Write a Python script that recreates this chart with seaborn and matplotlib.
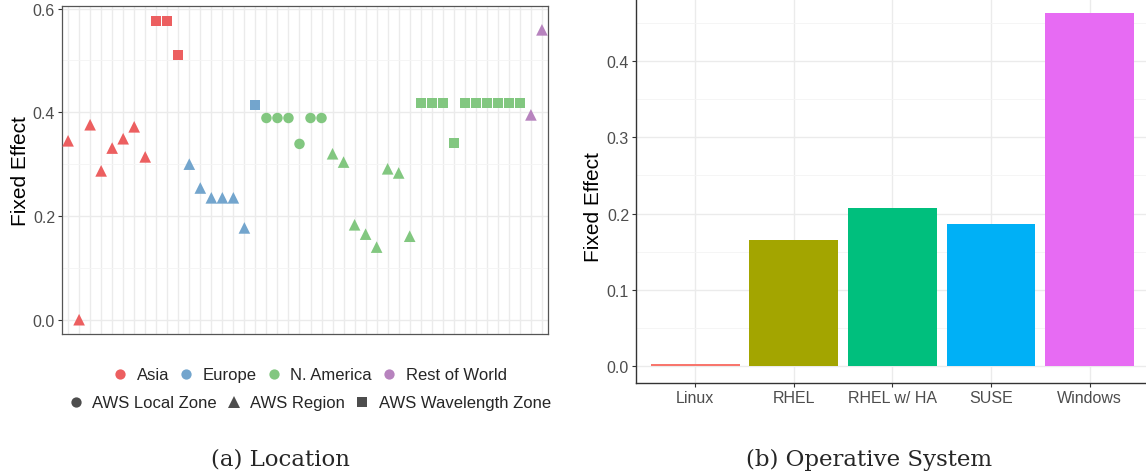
import numpy as np
import pandas as pd
import matplotlib
matplotlib.use("Agg")
import matplotlib.pyplot as plt
from matplotlib.lines import Line2D
import seaborn as sns

# ---------------- data ----------------
continents = (["Asia"] * 11 + ["Europe"] * 7 + ["N. America"] * 24 + ["Rest of World"] * 2)
zones = (["AWS Region"] * 8 + ["AWS Wavelength Zone"] * 3 +
         ["AWS Region"] * 6 + ["AWS Wavelength Zone"] * 1 +
         ["AWS Local Zone"] * 6 + ["AWS Region"] * 8 + ["AWS Wavelength Zone"] * 10 +
         ["AWS Region"] * 2)
loc_effect = [0.345, 0.0, 0.376, 0.287, 0.331, 0.349, 0.372, 0.314, 0.576, 0.576, 0.511,
              0.300, 0.254, 0.235, 0.235, 0.235, 0.177, 0.414,
              0.389, 0.389, 0.389, 0.339, 0.389, 0.389, 0.320, 0.304, 0.183, 0.165,
              0.140, 0.291, 0.283, 0.161, 0.418, 0.418, 0.418, 0.341, 0.418, 0.418,
              0.418, 0.418, 0.418, 0.418,
              0.395, 0.559]
sites = [f"site{i + 1:02d}" for i in range(len(loc_effect))]

continent_order = ["Asia", "Europe", "N. America", "Rest of World"]
zone_order = ["AWS Local Zone", "AWS Region", "AWS Wavelength Zone"]

os_names = ["Linux", "RHEL", "RHEL w/ HA", "SUSE", "Windows"]
os_effect = [0.002, 0.166, 0.207, 0.187, 0.463]

# ---------------- styles ----------------
cont_colors = {"Asia": "#EC5F60", "Europe": "#73A5CD", "N. America": "#82C780",
               "Rest of World": "#B783BE"}
zone_markers = {"AWS Local Zone": "o", "AWS Region": "^", "AWS Wavelength Zone": "s"}
zone_sizes = {"AWS Local Zone": 57, "AWS Region": 70, "AWS Wavelength Zone": 52}
os_colors = ["#F8766D", "#A3A500", "#00BF7D", "#00B0F6", "#E76BF3"]

sns.set_theme(style="white")
plt.rcParams["font.family"] = ["Liberation Sans", "DejaVu Sans"]

W, H = 1146, 477
fig = plt.figure(figsize=(W / 100, H / 100), dpi=100)

def fbox(x0, y0, x1, y1):
    return [x0 / W, 1 - y1 / H, (x1 - x0) / W, (y1 - y0) / H]

grid_major = "#EBEBEB"
grid_minor = "#F4F4F4"
tick_col = "#4D4D4D"
TICK_FS = 11.5
TITLE_FS = 15

# ---------------- left panel ----------------
ax1 = fig.add_axes(fbox(62, 7, 548, 335))
df = pd.DataFrame({"site": sites, "continent": continents, "zone": zones,
                   "effect": loc_effect})
sns.scatterplot(data=df, x="site", y="effect", hue="continent", style="zone",
                size="zone", hue_order=continent_order, style_order=zone_order,
                size_order=zone_order, sizes=zone_sizes,
                palette=cont_colors, markers=zone_markers, linewidth=0,
                legend=False, ax=ax1, zorder=3)
ax1.set_xlim(-0.55, len(sites) - 1 + 0.55)
ax1.set_ylim(-0.0276, 0.605)
ax1.set_yticks([0.0, 0.2, 0.4, 0.6])
ax1.set_yticklabels(["0.0", "0.2", "0.4", "0.6"])
ax1.set_yticks([0.1, 0.3, 0.5], minor=True)
ax1.set_xticks(range(len(sites)))
ax1.set_xticklabels([])
ax1.tick_params(axis="x", length=0)
ax1.tick_params(axis="y", which="major", length=3, width=0.8, color="#333333",
                labelsize=TICK_FS, labelcolor=tick_col, pad=2, left=True)
ax1.tick_params(axis="y", which="minor", length=0)
ax1.grid(True, which="major", color=grid_major, linewidth=1.0, zorder=0)
ax1.grid(True, which="minor", axis="y", color=grid_minor, linewidth=0.6, zorder=0)
ax1.set_axisbelow(True)
for sp in ax1.spines.values():
    sp.set_visible(True)
    sp.set_color("#555555")
    sp.set_linewidth(0.9)
ax1.set_xlabel("")
ax1.set_ylabel("Fixed Effect", fontsize=TITLE_FS, color="black")
ax1.yaxis.set_label_coords(-0.066, 0.5)

# legends
leg_kw = dict(frameon=False, fontsize=12, handletextpad=0.6, columnspacing=0.62,
              handlelength=0.8, borderpad=0, loc="center")
h1 = [Line2D([], [], linestyle="", marker="o", markersize=7.4, markeredgewidth=0,
             color=cont_colors[c], label=c) for c in continent_order]
fig.legend(handles=h1, bbox_to_anchor=(310 / W, 1 - 376 / H), ncol=4, **leg_kw)
h2 = [Line2D([], [], linestyle="", marker=zone_markers[z],
             markersize=7.4 if zone_markers[z] != "^" else 8.2,
             markeredgewidth=0, color="#4D4D4D", label=z) for z in zone_order]
fig.legend(handles=h2, bbox_to_anchor=(310 / W, 1 - 404 / H), ncol=3, **leg_kw)

# ---------------- right panel ----------------
ax2 = fig.add_axes(fbox(636, 0, 1146, 384))
dfo = pd.DataFrame({"os": os_names, "effect": os_effect})
sns.barplot(data=dfo, x="os", y="effect", hue="os", order=os_names,
            hue_order=os_names, palette=os_colors, width=0.9, legend=False,
            saturation=1, ax=ax2, zorder=3, linewidth=0)
ax2.set_xlim(-0.6, 4.573)
ax2.set_ylim(-0.0223, 0.4816)
ax2.set_yticks([0.0, 0.1, 0.2, 0.3, 0.4])
ax2.set_yticklabels(["0.0", "0.1", "0.2", "0.3", "0.4"])
ax2.set_yticks([0.05, 0.15, 0.25, 0.35, 0.45], minor=True)
ax2.tick_params(axis="both", which="major", length=3, width=0.8, color="#333333",
                labelsize=TICK_FS, labelcolor=tick_col, pad=2, left=True, bottom=True)
ax2.tick_params(axis="y", which="minor", length=0)
ax2.grid(True, which="major", color=grid_major, linewidth=1.0, zorder=0)
ax2.grid(True, which="minor", axis="y", color=grid_minor, linewidth=0.6, zorder=0)
ax2.set_axisbelow(True)
for s in ["top", "right"]:
    ax2.spines[s].set_visible(False)
for s in ["left", "bottom"]:
    ax2.spines[s].set_visible(True)
    ax2.spines[s].set_color("#333333")
    ax2.spines[s].set_linewidth(1.0)
ax2.set_xlabel("")
ax2.set_ylabel("Fixed Effect", fontsize=TITLE_FS, color="black")
ax2.yaxis.set_label_coords(-0.0655, 0.46)

# captions
fig.text(280 / W, 1 - 460 / H, "(a) Location", ha="center", va="center",
         fontsize=16.5, family="DejaVu Serif")
fig.text(869 / W, 1 - 460 / H, "(b) Operative System", ha="center", va="center",
         fontsize=16.5, family="DejaVu Serif")

fig.savefig("out.png", dpi=100)
